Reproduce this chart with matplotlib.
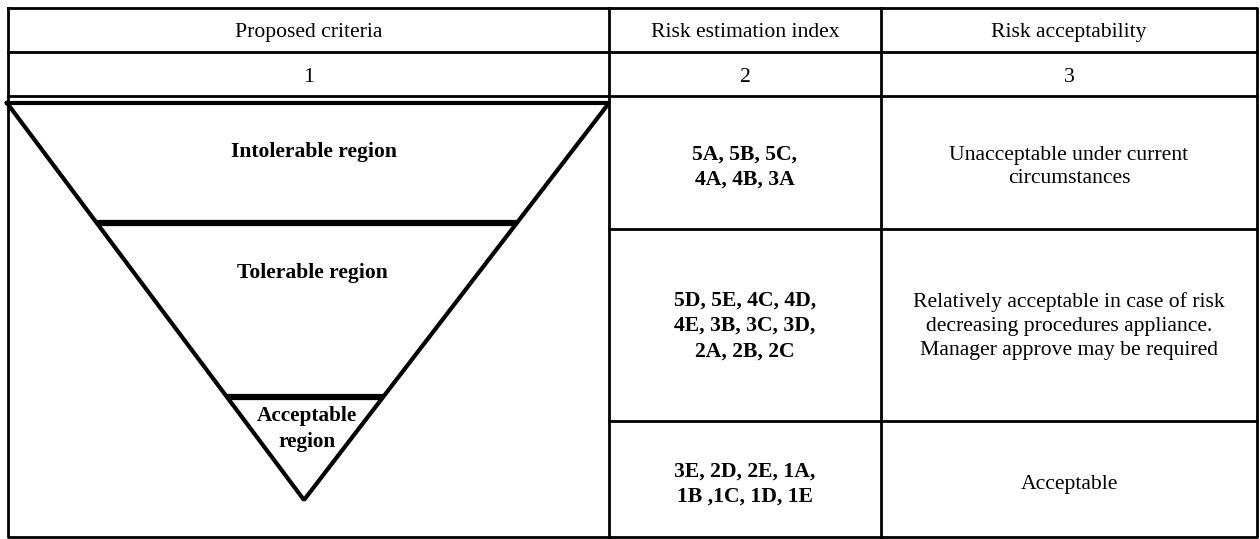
import matplotlib
matplotlib.use("Agg")
import matplotlib.pyplot as plt

# ---- data ----
headers = ["Proposed criteria", "Risk estimation index", "Risk acceptability"]
col_numbers = ["1", "2", "3"]
region_names = ["Intolerable region", "Tolerable region", "Acceptable\nregion"]
risk_indices = [
    "5A, 5B, 5C,\n4A, 4B, 3A",
    "5D, 5E, 4C, 4D,\n4E, 3B, 3C, 3D,\n2A, 2B, 2C",
    "3E, 2D, 2E, 1A,\n1B ,1C, 1D, 1E",
]
acceptability = [
    "Unacceptable under current\ncircumstances",
    "Relatively acceptable in case of risk\ndecreasing procedures appliance.\nManager approve may be required",
    "Acceptable",
]

# ---- layout (pixel coordinates) ----
W, H = 1260, 539
col_x = [8, 609, 881, 1257]
head_y = [8, 52, 96]
row_y = [96, 229, 421, 537]
tri_top_y = 103
tri_left, tri_right = 7, 609
apex = (304, 500)
cut_y = [223, 397]
region_text_y = [152, 273, 429]
region_text_x = [314, 312, 307]

plt.rcParams['font.family'] = ['Liberation Serif', 'DejaVu Serif']

fig = plt.figure(figsize=(W / 100, H / 100), dpi=100)
ax = fig.add_axes([0, 0, 1, 1])
ax.set_xlim(0, W)
ax.set_ylim(H, 0)
ax.axis('off')

lw_tab = 2.0
k = 'black'
# outer box and grid
ax.plot([col_x[0], col_x[-1], col_x[-1], col_x[0], col_x[0]],
        [head_y[0], head_y[0], row_y[-1], row_y[-1], head_y[0]], color=k, lw=lw_tab)
for y in head_y[1:]:
    ax.plot([col_x[0], col_x[-1]], [y, y], color=k, lw=lw_tab)
for x in col_x[1:-1]:
    ax.plot([x, x], [head_y[0], row_y[-1]], color=k, lw=lw_tab)
for y in row_y[1:-1]:
    ax.plot([col_x[1], col_x[-1]], [y, y], color=k, lw=lw_tab)

# triangle
ax.plot([tri_left, tri_right, apex[0], tri_left],
        [tri_top_y, tri_top_y, apex[1], tri_top_y], color=k, lw=3.0,
        solid_joinstyle='bevel')

def x_on_edge(y, x0):
    t = (y - tri_top_y) / (apex[1] - tri_top_y)
    return x0 + (apex[0] - x0) * t

for y in cut_y:
    ax.plot([x_on_edge(y, tri_left), x_on_edge(y, tri_right)], [y, y],
            color=k, lw=4.5, solid_capstyle='butt')

fs = 15.6
ls = 1.34
head_base = [37, 82]
for i in range(3):
    cx = (col_x[i] + col_x[i + 1]) / 2
    ax.text(cx, head_base[0], headers[i], ha='center', va='baseline', fontsize=fs)
    ax.text(cx, head_base[1], col_numbers[i], ha='center', va='baseline', fontsize=fs)

for i, name in enumerate(region_names):
    ax.text(region_text_x[i], region_text_y[i], name, ha='center', va='center',
            fontsize=fs if i < 2 else fs * 0.98, fontweight='bold',
            linespacing=ls if i < 2 else 1.38)

row_cy = [167, 326, 484]
for i in range(3):
    ax.text((col_x[1] + col_x[2]) / 2, row_cy[i], risk_indices[i], ha='center',
            va='center', fontsize=fs, fontweight='bold', linespacing=ls)
    ax.text((col_x[2] + col_x[3]) / 2, row_cy[i], acceptability[i], ha='center',
            va='center', fontsize=fs, linespacing=ls, multialignment='center')

fig.savefig('out.png', dpi=100, facecolor='white')
